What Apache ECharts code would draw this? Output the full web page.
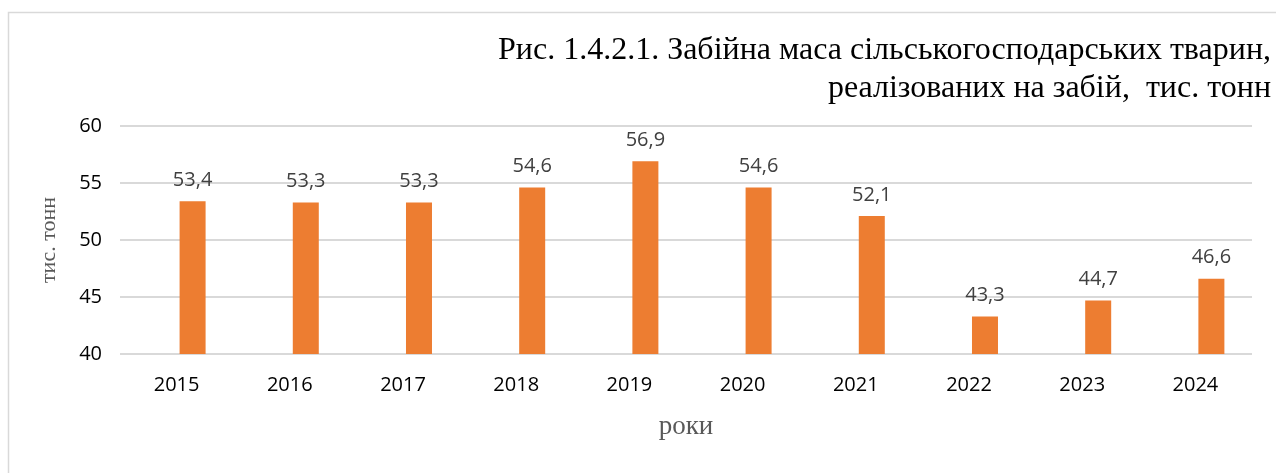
<!DOCTYPE html>
<html>
<head>
<meta charset="utf-8">
<script src="https://cdn.jsdelivr.net/npm/echarts@6/dist/echarts.min.js"></script>
<style>
    html, body { margin: 0; padding: 0; background: #fff; }
    #chart-main { width: 1276px; height: 473px; }
</style>
</head>
<body>
<div id="chart-main"></div>
<script>
// 数据
const years = ['2015', '2016', '2017', '2018', '2019', '2020', '2021', '2022', '2023', '2024'];
const values = [53.4, 53.3, 53.3, 54.6, 56.9, 54.6, 52.1, 43.3, 44.7, 46.6];
const emptyValues = years.map(() => null);

const titleLines = [
    'Рис. 1.4.2.1. Забійна маса сільськогосподарських тварин,',
    'реалізованих на забій,  тис. тонн'
];

let mainChart = null;

function initMainChart() {
    const container = document.getElementById('chart-main');
    if (!container) return;

    mainChart = echarts.init(container);

    // 标题两行分别右对齐
    const titleStyle = {
        fontFamily: 'Liberation Serif',
        fontSize: 32,
        fontWeight: 'normal',
        color: '#000'
    };

    const option = {
        backgroundColor: '#fff',
        animation: false,
        title: titleLines.map((t, i) => ({
            text: t,
            right: 0,
            top: 30 + i * 38,
            textStyle: titleStyle
        })),
        graphic: [{
            type: 'rect',
            shape: { x: 8.5, y: 12.5, width: 1400, height: 600 },
            style: { fill: 'none', stroke: '#d9d9d9', lineWidth: 1.5 },
            silent: true
        }],
        grid: {
            left: 120,
            right: 24,
            top: 126,
            bottom: 119
        },
        xAxis: {
            type: 'category',
            data: years,
            name: 'роки',
            nameLocation: 'middle',
            nameGap: 59,
            nameTextStyle: {
                fontFamily: 'Liberation Serif',
                fontSize: 27,
                color: '#595959'
            },
            axisLine: { show: false },
            axisTick: { show: false },
            axisLabel: {
                margin: 21,
                fontFamily: 'Open Sans',
                fontSize: 20,
                color: '#000'
            }
        },
        yAxis: {
            type: 'value',
            min: 40,
            max: 60,
            interval: 5,
            name: 'тис. тонн',
            nameLocation: 'middle',
            nameGap: 60,
            nameTextStyle: {
                fontFamily: 'Liberation Serif',
                fontSize: 22,
                color: '#595959'
            },
            axisLine: { show: false },
            axisTick: { show: false },
            axisLabel: {
                margin: 18,
                fontFamily: 'Open Sans',
                fontSize: 20,
                color: '#000'
            },
            splitLine: { lineStyle: { color: '#d9d9d9', width: 2 } }
        },
        series: [{
            // 占位系列, 让柱子偏右
            type: 'bar',
            name: 'spacer',
            barWidth: 26,
            barGap: '23%',
            data: emptyValues
        }, {
            type: 'bar',
            name: 'value',
            barWidth: 26,
            barGap: '23%',
            data: values,
            itemStyle: { color: '#ED7D31' },
            label: {
                show: true,
                position: 'top',
                distance: 11,
                fontFamily: 'Open Sans',
                fontSize: 20,
                color: '#404040',
                formatter: p => String(p.value).replace('.', ',')
            }
        }]
    };

    mainChart.setOption(option);

    window.addEventListener('resize', () => {
        mainChart && mainChart.resize();
    });
}

initMainChart();
</script>
</body>
</html>
